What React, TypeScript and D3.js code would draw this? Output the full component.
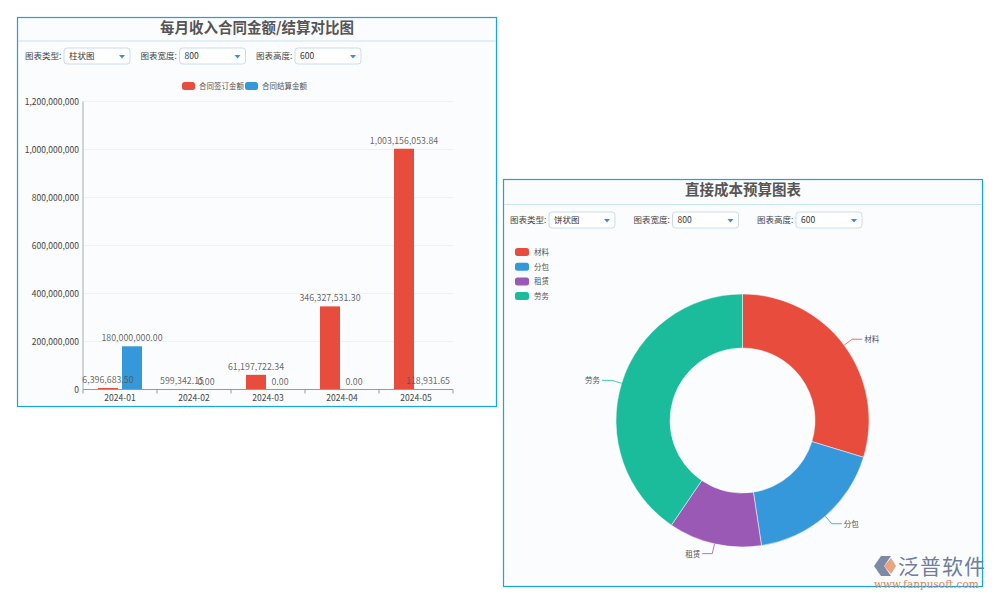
import React from 'react';
import * as d3 from 'd3';

// bar chart data
const months = ['2024-01', '2024-02', '2024-03', '2024-04', '2024-05'];
const signedAmount = [6396683.5, 599342.15, 61197722.34, 346327531.3, 1003156053.84];
const settledAmount = [180000000, 0, 0, 0, 118931.65];
const barSeries = ['合同签订金额', '合同结算金额'];
const yTicks = [0, 200000000, 400000000, 600000000, 800000000, 1000000000, 1200000000];

// pie chart data
const costItems = ['材料', '分包', '租赁', '劳务'];
const costValues = [29.7, 17.9, 11.9, 40.5];

const RED = '#e74c3c';
const BLUE = '#3498db';
const pieColors = [RED, BLUE, '#9b59b6', '#1abc9c'];
const FONT = '"Noto Sans CJK SC", "Noto Sans", sans-serif';

const fmt2 = d3.format(',.2f');
const fmt0 = d3.format(',');

const Select = ({ x, y, w, text }: { x: number; y: number; w: number; text: string }) => (
  <g>
    <rect x={x} y={y} width={w} height={16} rx={3} fill="#fff" stroke="#c9dced" />
    <text x={x + 5} y={y + 11} fontSize={8.5} fill="#333">{text}</text>
    <path d={`M${x + w - 11},${y + 7} l6,0 l-3,3.5 z`} fill="#3a8ee0" />
  </g>
);

const Controls = ({ x, y, type, gap }: { x: number; y: number; type: string; gap: number }) => (
  <g fontFamily={FONT}>
    <text x={x} y={y + 11} fontSize={8.5} fill="#444">图表类型:</text>
    <Select x={x + 39} y={y} w={66} text={type} />
    <text x={x + gap} y={y + 11} fontSize={8.5} fill="#444">图表宽度:</text>
    <Select x={x + gap + 39} y={y} w={66} text="800" />
    <text x={x + gap * 2} y={y + 11} fontSize={8.5} fill="#444">图表高度:</text>
    <Select x={x + gap * 2 + 39} y={y} w={66} text="600" />
  </g>
);

const BarPanel = () => {
  const left = 83;
  const right = 453;
  const top = 101.5;
  const bottom = 389.5;
  const x = d3.scaleBand().domain(months).range([left, right]);
  const y = d3.scaleLinear().domain([0, 1200000000]).range([bottom, top]);
  const bw = 20;
  const gap = 4;
  const series = [signedAmount, settledAmount];
  const colors = [RED, BLUE];
  const barX = (m: string, k: number) => {
    const c = (x(m) as number) + x.bandwidth() / 2;
    return k === 0 ? c - gap / 2 - bw : c + gap / 2;
  };

  return (
    <g fontFamily={FONT}>
      <rect x={17.5} y={17.5} width={479} height={389} fill="#fbfcfd" stroke="#15a4e6" strokeWidth={1.2} />
      <text x={257} y={33} textAnchor="middle" fontSize={14.5} fontWeight="bold" fill="#555">
        每月收入合同金额/结算对比图
      </text>
      <line x1={18} x2={496} y1={41} y2={41} stroke="#c6e2f3" />
      <Controls x={25} y={48} type="柱状图" gap={115.5} />

      {/* legend */}
      {barSeries.map((s, i) => (
        <g key={s} transform={`translate(${182 + i * 63},82)`}>
          <rect width={13} height={8} rx={2.5} fill={colors[i]} />
          <text x={17} y={7} fontSize={7.5} fill="#555">{s}</text>
        </g>
      ))}

      {/* grid + y axis */}
      {yTicks.map((t) => (
        <g key={t}>
          {t > 0 && <line x1={left} x2={right} y1={y(t)} y2={y(t)} stroke="#edf0f6" />}
          <text x={left - 4} y={y(t) + 3} textAnchor="end" fontSize={8.5} fill="#444">
            {fmt0(t)}
          </text>
        </g>
      ))}
      <line x1={left} x2={left} y1={top} y2={bottom} stroke="#aaa" />

      {/* bars */}
      {series.map((s, k) =>
        months.map((m, i) => (
          <rect key={`${m}-${k}`} x={barX(m, k)} y={y(s[i])} width={bw} height={bottom - y(s[i])} fill={colors[k]} />
        ))
      )}

      {/* x axis */}
      <line x1={left} x2={right} y1={bottom} y2={bottom} stroke="#999" />
      {months.map((m, i) => (
        <g key={m}>
          <line x1={x(m)} x2={x(m)} y1={bottom} y2={bottom + 4} stroke="#999" />
          {i === months.length - 1 && (
            <line x1={right} x2={right} y1={bottom} y2={bottom + 4} stroke="#999" />
          )}
          <text x={(x(m) as number) + x.bandwidth() / 2} y={bottom + 11} textAnchor="middle" fontSize={8.5} fill="#444">
            {m}
          </text>
        </g>
      ))}

      {/* value labels on top of everything */}
      {series.map((s, k) =>
        months.map((m, i) => (
          <text
            key={`l-${m}-${k}`}
            x={barX(m, k) + bw / 2}
            y={y(s[i]) - 5}
            textAnchor="middle"
            fontSize={8.8}
            fill="#555"
            fillOpacity={0.9}
          >
            {fmt2(s[i])}
          </text>
        ))
      )}
    </g>
  );
};

const PiePanel = () => {
  const cx = 742.5;
  const cy = 420.5;
  const outer = 126.5;
  const inner = 72.5;
  const pie = d3.pie<number>().sort(null)(costValues);
  const arc = d3.arc<d3.PieArcDatum<number>>().innerRadius(inner).outerRadius(outer);

  return (
    <g fontFamily={FONT}>
      <rect x={503.5} y={179.5} width={479} height={407} fill="#fbfcfd" stroke="#15a4e6" strokeWidth={1.2} />
      <text x={743} y={195} textAnchor="middle" fontSize={14.5} fontWeight="bold" fill="#555">
        直接成本预算图表
      </text>
      <line x1={504} x2={982} y1={204.5} y2={204.5} stroke="#c6e2f3" />
      <Controls x={510} y={212} type="饼状图" gap={123.5} />

      {/* legend */}
      {costItems.map((c, i) => (
        <g key={c} transform={`translate(515,${248 + i * 14.7})`}>
          <rect width={14} height={8} rx={2.5} fill={pieColors[i]} />
          <text x={19} y={7} fontSize={7.5} fill="#555">{c}</text>
        </g>
      ))}

      <g transform={`translate(${cx},${cy})`}>
        {pie.map((p, i) => {
          const mid = (p.startAngle + p.endAngle) / 2;
          const sx = Math.sin(mid);
          const sy = -Math.cos(mid);
          const p0 = [sx * outer, sy * outer];
          const p1 = [sx * (outer + 10), sy * (outer + 10)];
          const dir = sx >= 0 ? 1 : -1;
          const p2 = [p1[0] + dir * 10, p1[1]];
          return (
            <g key={costItems[i]}>
              <path d={arc(p) || ''} fill={pieColors[i]} stroke="#fff" strokeWidth={0.5} />
              <polyline
                points={[p0, p1, p2].map((q) => q.join(',')).join(' ')}
                fill="none"
                stroke={pieColors[i]}
                strokeWidth={0.8}
              />
              <text
                x={p2[0] + dir * 2}
                y={p2[1] + 3}
                textAnchor={dir > 0 ? 'start' : 'end'}
                fontSize={7.5}
                fill="#555"
              >
                {costItems[i]}
              </text>
            </g>
          );
        })}
      </g>
    </g>
  );
};

const Watermark = () => (
  <g>
    <path d="M874,566 L881,556 L891,556 L884,566 L891,576 L881,576 Z" fill="#7d8aa6" />
    <path d="M884,566 L891,558 L896,566 L891,574 Z" fill="#e9a37f" />
    <text x={898} y={574} fontSize={21} fontFamily={FONT} fill="#6f7e9c" letterSpacing={1}>泛普软件</text>
    <text x={874} y={588} fontSize={10.5} fontFamily="'DejaVu Serif', serif" fill="#d9875a">
      www.fanpusoft.com
    </text>
  </g>
);

const App = () => (
  <div style={{ position: 'absolute', left: 0, top: 0 }}>
    <svg width={1000} height={600} viewBox="0 0 1000 600" style={{ display: 'block', background: '#fff' }}>
      <BarPanel />
      <PiePanel />
      <Watermark />
    </svg>
  </div>
);

export default App;
